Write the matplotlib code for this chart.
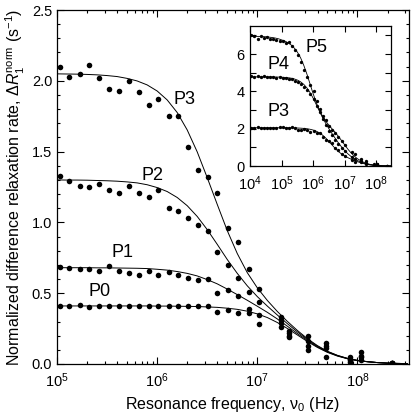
import numpy as np
import matplotlib
matplotlib.use('Agg')
import matplotlib.pyplot as plt
from matplotlib.ticker import MultipleLocator, LogLocator, NullLocator, FormatStrFormatter

plt.rcParams['font.family'] = ['Liberation Sans', 'DejaVu Sans']
plt.rcParams['mathtext.fontset'] = 'custom'
plt.rcParams['mathtext.rm'] = 'Liberation Sans'
plt.rcParams['mathtext.it'] = 'Liberation Sans:italic'
plt.rcParams['mathtext.bf'] = 'Liberation Sans:bold'

# measured frequencies (Hz)
freq_low = [1.07e4, 1.35e4, 1.70e4, 2.14e4, 2.69e4, 3.39e4, 4.27e4, 5.37e4, 6.76e4, 8.51e4]
freq_main = [1.06e5, 1.33e5, 1.68e5, 2.10e5, 2.62e5, 3.32e5, 4.15e5, 5.25e5, 6.55e5, 8.2e5,
             1.03e6, 1.30e6, 1.62e6, 2.03e6, 2.54e6, 3.20e6, 4.0e6, 5.05e6, 6.35e6, 8.3e6, 1.05e7]
freq_high = [1.72e7, 2.07e7, 3.2e7, 4.85e7, 8.4e7, 1.08e8, 2.2e8]

# main panel data
P0 = [0.41, 0.41, 0.42, 0.40, 0.41, 0.41, 0.41, 0.41, 0.41, 0.41, 0.41, 0.41, 0.41, 0.41, 0.41, 0.41,
      0.37, 0.38, 0.36, 0.36, 0.28,
      0.26, 0.19, 0.10, 0.05, 0.016, 0.028, 0.01]
P1 = [0.685, 0.68, 0.67, 0.67, 0.66, 0.69, 0.66, 0.64, 0.63, 0.66, 0.63, 0.65, 0.63, 0.61, 0.59, 0.60,
      0.50, 0.52, 0.48, 0.385, 0.347,
      0.29, 0.20, 0.13, 0.11, 0.028, 0.047, 0.01]
P2 = [1.33, 1.29, 1.26, 1.25, 1.27, 1.23, 1.21, 1.26, 1.21, 1.18, 1.23, 1.10, 1.08, 1.03, 0.98, 0.94,
      0.79, 0.70, 0.61, 0.505, 0.44,
      0.31, 0.22, 0.16, 0.13, 0.035, 0.06, 0.01]
P3 = [2.10, 2.03, 2.05, 2.11, 2.02, 1.94, 1.93, 2.00, 1.92, 1.83, 1.87, 1.75, 1.75, 1.53, 1.37, 1.32,
      1.21, 0.96, 0.86, 0.67, 0.53,
      0.33, 0.235, 0.20, 0.15, 0.047, 0.087, 0.01]

# inset data (extends down to 1e4 Hz)
P3_low = [2.06, 2.04, 2.07, 2.03, 2.05, 2.06, 2.04, 2.05, 2.03, 2.08]
P4_in = [4.80, 4.78, 4.82, 4.77, 4.80, 4.78, 4.75, 4.78, 4.72, 4.75,
         4.72, 4.70, 4.68, 4.66, 4.57, 4.50, 4.38, 4.25, 4.08, 3.85, 3.60, 3.20, 2.90, 2.50, 2.20,
         1.90, 1.65, 1.40, 1.18, 0.98, 0.80,
         0.50, 0.40, 0.25, 0.12, 0.05, 0.07, 0.01]
P5_in = [7.04, 6.95, 6.83, 6.99, 6.86, 6.90, 6.80, 6.82, 6.75, 6.68,
         6.70, 6.62, 6.65, 6.45, 6.20, 5.97, 5.60, 5.16, 4.75, 4.35, 4.00, 3.50, 3.05, 2.70, 2.45,
         2.15, 1.95, 1.75, 1.55, 1.35, 1.12,
         0.77, 0.62, 0.40, 0.25, 0.10, 0.12, 0.01]

# fitted curves on a 0.1-decade grid
fit_log_main = np.round(np.arange(5.0, 8.55, 0.1), 1)
fit_log_inset = np.round(np.arange(4.0, 8.55, 0.1), 1)

fit_P0 = [0.41, 0.41, 0.41, 0.41, 0.41, 0.41, 0.41, 0.41, 0.41, 0.41,
          0.409, 0.409, 0.408, 0.407, 0.406, 0.403, 0.400, 0.394, 0.386, 0.373,
          0.354, 0.328, 0.293, 0.251, 0.205, 0.159, 0.117, 0.082, 0.056, 0.037,
          0.024, 0.016, 0.010, 0.006, 0.004, 0.003]
fit_P1 = [0.68, 0.68, 0.68, 0.68, 0.679, 0.679, 0.678, 0.677, 0.676, 0.674,
          0.669, 0.663, 0.653, 0.640, 0.622, 0.596, 0.566, 0.529, 0.490, 0.450,
          0.408, 0.365, 0.318, 0.267, 0.215, 0.166, 0.121, 0.085, 0.058, 0.038,
          0.024, 0.016, 0.010, 0.006, 0.004, 0.003]
fit_P2 = [1.30, 1.299, 1.299, 1.298, 1.296, 1.294, 1.291, 1.286, 1.279, 1.266,
          1.246, 1.218, 1.176, 1.118, 1.042, 0.949, 0.845, 0.738, 0.640, 0.552,
          0.476, 0.409, 0.346, 0.285, 0.227, 0.173, 0.126, 0.088, 0.060, 0.039,
          0.025, 0.016, 0.010, 0.006, 0.004, 0.003]
fit_P3 = [2.049, 2.048, 2.047, 2.045, 2.042, 2.037, 2.030, 2.017, 1.999, 1.971,
          1.928, 1.865, 1.776, 1.653, 1.498, 1.316, 1.127, 0.942, 0.780, 0.645,
          0.538, 0.449, 0.371, 0.301, 0.237, 0.179, 0.130, 0.090, 0.061, 0.040,
          0.026, 0.017, 0.010, 0.006, 0.004, 0.003]
fit_P3_low = [2.05, 2.05, 2.05, 2.05, 2.05, 2.05, 2.05, 2.05, 2.05, 2.05]
fit_P4 = [4.78, 4.78, 4.78, 4.78, 4.78, 4.78, 4.777, 4.775, 4.773, 4.769,
          4.762, 4.750, 4.733, 4.710, 4.668, 4.607, 4.513, 4.378, 4.188, 3.938,
          3.632, 3.287, 2.931, 2.589, 2.278, 1.995, 1.734, 1.484, 1.246, 1.024,
          0.827, 0.658, 0.517, 0.398, 0.301, 0.221, 0.157, 0.107, 0.072, 0.047,
          0.030, 0.020, 0.012, 0.008, 0.005, 0.003]
fit_P5 = [6.96, 6.95, 6.95, 6.95, 6.94, 6.93, 6.91, 6.89, 6.86, 6.82,
          6.76, 6.70, 6.61, 6.49, 6.32, 6.10, 5.80, 5.40, 4.93, 4.40,
          3.87, 3.39, 2.98, 2.66, 2.40, 2.19, 1.99, 1.80, 1.59, 1.37,
          1.14, 0.91, 0.71, 0.54, 0.40, 0.29, 0.20, 0.14, 0.09, 0.06,
          0.04, 0.025, 0.015, 0.009, 0.006, 0.004]

freq_all = freq_main + freq_high
freq_inset = freq_low + freq_main + freq_high

fig = plt.figure(figsize=(4.11, 4.15), dpi=100)
ax = fig.add_axes([0.1387, 0.1229, 0.8564, 0.8530])

fit_f_main = 10.0 ** fit_log_main
for fit in [fit_P0, fit_P1, fit_P2, fit_P3]:
    ax.plot(fit_f_main, fit, color='black', lw=0.7)
for series in [P0, P1, P2, P3]:
    ax.plot(freq_all, series, 'o', color='black', ms=4.0, mew=0)

ax.set_xscale('log')
ax.set_xlim(1e5, 3.27e8)
ax.set_ylim(0, 2.5)
ax.yaxis.set_major_locator(MultipleLocator(0.5))
ax.yaxis.set_minor_locator(MultipleLocator(0.1))
ax.yaxis.set_major_formatter(FormatStrFormatter('%.1f'))
ax.xaxis.set_minor_locator(LogLocator(base=10, subs=np.arange(2, 10), numticks=20))
ax.tick_params(which='both', direction='in', top=True, right=True, labelsize=10.5, width=0.8)
ax.tick_params(which='major', length=5)
ax.tick_params(which='minor', length=2.5)
ax.tick_params(axis='x', pad=5)
for s in ax.spines.values():
    s.set_linewidth(0.9)

ax.set_xlabel(r'Resonance frequency, $\mathregular{\nu_0}$ (Hz)', fontsize=11.5, labelpad=4)
ax.set_ylabel(r'Normalized difference relaxation rate, $\Delta R_1^{\mathregular{norm}}$ (s$^{\mathregular{-1}}$)',
              fontsize=11.5, labelpad=3)

ax.text(10 ** 6.27, 1.87, 'P3', fontsize=13, ha='center', va='center')
ax.text(10 ** 5.95, 1.33, 'P2', fontsize=13, ha='center', va='center')
ax.text(10 ** 5.65, 0.79, 'P1', fontsize=13, ha='center', va='center')
ax.text(10 ** 5.42, 0.51, 'P0', fontsize=13, ha='center', va='center')

# inset
axin = fig.add_axes([0.609, 0.600, 0.342, 0.337])
fit_f_inset = 10.0 ** fit_log_inset
for fit in [fit_P3_low + fit_P3, fit_P4, fit_P5]:
    axin.plot(fit_f_inset, fit, color='black', lw=0.6)
for series in [P3_low + P3, P4_in, P5_in]:
    axin.plot(freq_inset, series, 'o', color='black', ms=2.4, mew=0)

axin.set_xscale('log')
axin.set_xlim(1e4, 2.95e8)
axin.set_ylim(0, 7.5)
axin.xaxis.set_major_locator(LogLocator(base=10, numticks=10))
axin.xaxis.set_minor_locator(NullLocator())
axin.yaxis.set_major_locator(MultipleLocator(2))
axin.yaxis.set_minor_locator(MultipleLocator(1))
axin.tick_params(which='both', direction='in', top=True, right=True, labelsize=10.5, width=0.8)
axin.tick_params(which='major', length=4)
axin.tick_params(which='minor', length=4)
axin.tick_params(axis='x', pad=6)
axin.tick_params(axis='y', pad=4)
for s in axin.spines.values():
    s.set_linewidth(0.9)

axin.text(10 ** 6.10, 6.37, 'P5', fontsize=13, ha='center', va='center')
axin.text(10 ** 4.89, 5.43, 'P4', fontsize=13, ha='center', va='center')
axin.text(10 ** 4.89, 2.90, 'P3', fontsize=13, ha='center', va='center')

fig.savefig('out.png', dpi=100)
